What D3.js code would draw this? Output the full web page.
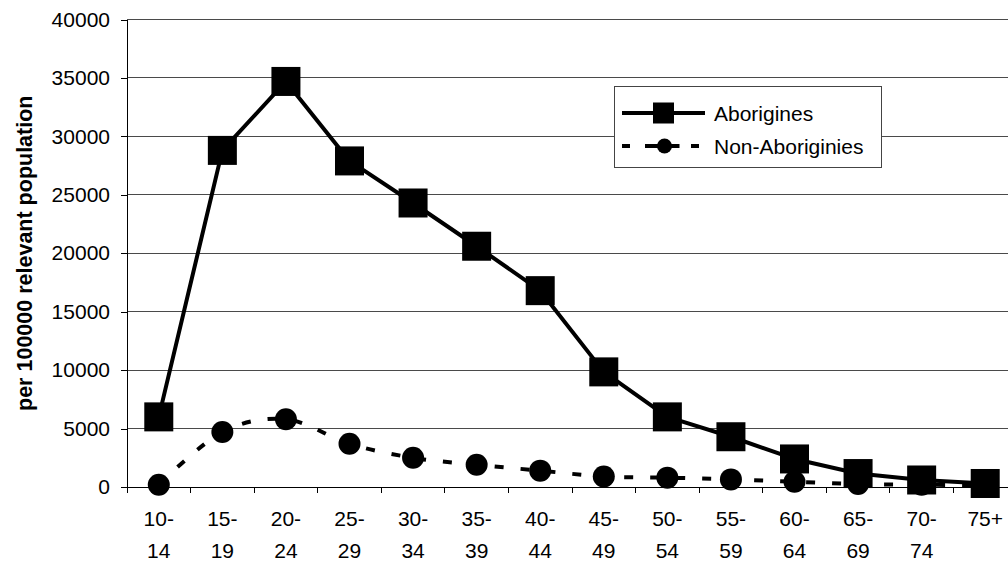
<!DOCTYPE html>
<html>
<head>
<meta charset="utf-8">
<script src="https://cdn.jsdelivr.net/npm/d3@7"></script>
<style>
  html, body { margin: 0; padding: 0; background: #fff; }
  svg { display: block; font-family: "Liberation Sans", Arial, sans-serif; }
</style>
</head>
<body>
<svg id="chart" width="1008" height="562"></svg>
<script>
// Age groups (two-line labels: first line, second line)
const ageGroups = ["10-14", "15-19", "20-24", "25-29", "30-34", "35-39", "40-44",
                   "45-49", "50-54", "55-59", "60-64", "65-69", "70-74", "75+"];
const labelLine1 = ["10-", "15-", "20-", "25-", "30-", "35-", "40-",
                    "45-", "50-", "55-", "60-", "65-", "70-", "75+"];
const labelLine2 = ["14", "19", "24", "29", "34", "39", "44",
                    "49", "54", "59", "64", "69", "74", ""];

// Rates per 100000 relevant population
const aborigines    = [6000, 28800, 34700, 27900, 24300, 20600, 16800,
                       9850, 6000, 4300, 2400, 1150, 600, 300];
const nonAborigines = [200, 4700, 5800, 3700, 2500, 1900, 1400,
                       900, 800, 650, 450, 250, 200, 150];

const yTicks = [0, 5000, 10000, 15000, 20000, 25000, 30000, 35000, 40000];

const seriesNames = ["Aborigines", "Non-Aboriginies"];

const svg = d3.select("#chart");

// Plot area (the category band runs slightly past the right edge of the canvas)
const plotLeft = 127, plotRight = 1017, plotTop = 19.5, plotBottom = 487;

const x = d3.scaleBand().domain(ageGroups).range([plotLeft, plotRight]).padding(0);
const y = d3.scaleLinear().domain([0, 40000]).range([plotBottom, plotTop]);
const cx = d => x(d) + x.bandwidth() / 2;

// Horizontal gridlines
svg.append("g")
  .selectAll("line")
  .data(yTicks.filter(v => v > 0))
  .join("line")
  .attr("x1", plotLeft).attr("x2", plotRight)
  .attr("y1", d => y(d)).attr("y2", d => y(d))
  .attr("stroke", "#4a4a4a").attr("stroke-width", 1)
  .attr("shape-rendering", "crispEdges");

// Y axis
const yAxis = d3.axisLeft(y).tickValues(yTicks).tickFormat(d3.format("d"))
  .tickSizeOuter(0).tickSizeInner(6).tickPadding(11);
const gy = svg.append("g").attr("transform", `translate(${plotLeft},0)`).call(yAxis);
gy.select(".domain").attr("stroke", "#000").attr("shape-rendering", "crispEdges");
gy.selectAll(".tick line").attr("stroke", "#000").attr("shape-rendering", "crispEdges");
gy.selectAll(".tick text")
  .attr("font-size", 21).attr("fill", "#000")
  .attr("font-family", "'Liberation Sans', Arial, sans-serif");

// X axis: ticks sit on category boundaries
const gx = svg.append("g");
gx.append("line")
  .attr("x1", plotLeft).attr("x2", plotRight).attr("y1", plotBottom).attr("y2", plotBottom)
  .attr("stroke", "#000").attr("shape-rendering", "crispEdges");
gx.selectAll("line.tick")
  .data(ageGroups)
  .join("line")
  .attr("class", "tick")
  .attr("x1", d => x(d)).attr("x2", d => x(d))
  .attr("y1", plotBottom).attr("y2", plotBottom + 6)
  .attr("stroke", "#000").attr("shape-rendering", "crispEdges");

const xl = gx.selectAll("text.lab")
  .data(ageGroups)
  .join("text")
  .attr("class", "lab")
  .attr("text-anchor", "middle")
  .attr("font-size", 21)
  .attr("fill", "#000");
xl.append("tspan").attr("x", d => cx(d)).attr("y", plotBottom + 39)
  .text((d, i) => labelLine1[i]);
xl.append("tspan").attr("x", d => cx(d)).attr("y", plotBottom + 71)
  .text((d, i) => labelLine2[i]);

// Y axis title
svg.append("text")
  .attr("transform", `translate(32,${(plotTop + plotBottom) / 2}) rotate(-90)`)
  .attr("text-anchor", "middle")
  .attr("font-size", 21.5)
  .attr("font-weight", "bold")
  .attr("fill", "#000")
  .text("per 100000 relevant population");

// Non-Aborigines: smoothed dashed line with circle markers
const smooth = d3.line()
  .x((d, i) => cx(ageGroups[i]))
  .y(d => y(d))
  .curve(d3.curveCardinal.tension(0));

svg.append("path")
  .datum(nonAborigines)
  .attr("d", smooth)
  .attr("fill", "none")
  .attr("stroke", "#000")
  .attr("stroke-width", 4)
  .attr("stroke-dasharray", "9,17");

svg.append("g")
  .selectAll("circle")
  .data(nonAborigines)
  .join("circle")
  .attr("cx", (d, i) => cx(ageGroups[i]))
  .attr("cy", d => y(d))
  .attr("r", 11)
  .attr("fill", "#000");

// Aborigines: solid line with square markers
const straight = d3.line()
  .x((d, i) => cx(ageGroups[i]))
  .y(d => y(d));

svg.append("path")
  .datum(aborigines)
  .attr("d", straight)
  .attr("fill", "none")
  .attr("stroke", "#000")
  .attr("stroke-width", 4)
  .attr("stroke-linejoin", "round");

const sq = 29;
svg.append("g")
  .selectAll("rect")
  .data(aborigines)
  .join("rect")
  .attr("x", (d, i) => cx(ageGroups[i]) - sq / 2)
  .attr("y", d => y(d) - sq / 2)
  .attr("width", sq).attr("height", sq)
  .attr("fill", "#000");

// Legend
const lg = svg.append("g");
lg.append("rect")
  .attr("x", 614.5).attr("y", 86.5).attr("width", 267).attr("height", 81)
  .attr("fill", "#fff").attr("stroke", "#444").attr("stroke-width", 1);

const rowsY = [113, 146];
const sampleX1 = 622, sampleX2 = 705, sampleMid = (sampleX1 + sampleX2) / 2;

// Row 1: solid line with square
lg.append("line")
  .attr("x1", sampleX1).attr("x2", sampleX2).attr("y1", rowsY[0]).attr("y2", rowsY[0])
  .attr("stroke", "#000").attr("stroke-width", 4);
lg.append("rect")
  .attr("x", sampleMid - 10.5).attr("y", rowsY[0] - 10.5)
  .attr("width", 21).attr("height", 21).attr("fill", "#000");
// Row 2: dashed line with circle
lg.append("line")
  .attr("x1", sampleX1).attr("x2", sampleX2).attr("y1", rowsY[1]).attr("y2", rowsY[1])
  .attr("stroke", "#000").attr("stroke-width", 4)
  .attr("stroke-dasharray", "8,15");
lg.append("line")
  .attr("x1", sampleMid - 14).attr("x2", sampleMid + 16).attr("y1", rowsY[1]).attr("y2", rowsY[1])
  .attr("stroke", "#000").attr("stroke-width", 4);
lg.append("circle")
  .attr("cx", sampleMid + 1).attr("cy", rowsY[1]).attr("r", 7.5).attr("fill", "#000");

lg.selectAll("text")
  .data(seriesNames)
  .join("text")
  .attr("x", 714)
  .attr("y", (d, i) => rowsY[i])
  .attr("dy", "0.36em")
  .attr("font-size", 21)
  .attr("fill", "#000")
  .text(d => d);
</script>
</body>
</html>
